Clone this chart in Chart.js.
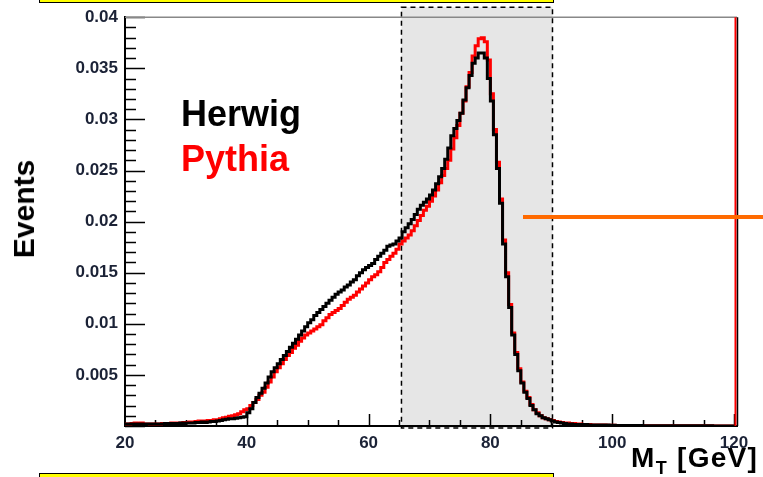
<!DOCTYPE html>
<html>
<head>
<meta charset="utf-8">
<script src="https://cdn.jsdelivr.net/npm/chart.js@4.4.0/dist/chart.umd.min.js"></script>
<style>
  html, body { margin: 0; padding: 0; background: #fff; }
  #wrap { position: relative; width: 763px; height: 477px; overflow: hidden; font-family: "Liberation Sans", Arial, sans-serif; }
  #plot { position: absolute; left: 0; top: 0; }
  .bar { position: absolute; background: #ffff00; border: 1.5px solid #000; box-sizing: border-box; }
  .txt { position: absolute; font-weight: bold; white-space: nowrap; line-height: 1; }
  #mark { position: absolute; left: 523px; top: 215px; width: 240px; height: 4px; background: #ff6a00; }
</style>
</head>
<body>
<div id="wrap">
  <canvas id="plot" width="763" height="477"></canvas>
  <div class="bar" style="left:39px; top:-12px; width:515px; height:15px;"></div>
  <div class="bar" style="left:39px; top:473px; width:515px; height:20px;"></div>
  <div id="mark"></div>
  <div class="txt" style="left:181px; top:96px; font-size:36px; color:#000;">Herwig</div>
  <div class="txt" style="left:181px; top:141px; font-size:36px; color:#ff0000;">Pythia</div>
  <div class="txt" style="left:24px; top:209px; font-size:30px; transform:translate(-50%,-50%) rotate(-90deg);">Events</div>
  <div class="txt" style="left:631px; top:444px; font-size:28px; letter-spacing:1.3px;">M<span style="font-size:18px; position:relative; top:7px;">T</span> [GeV]</div>
</div>
<script>
// M_T histograms, 0.5 GeV bins from 20 to 120 GeV
const binStart = 20;
const binWidth = 0.5;

const herwig = [
  0.0002, 0.0002, 0.0002, 0.00015, 0.0002, 0.0002, 0.00015, 0.0002, 0.0002, 0.0002,
  0.0002, 0.0002, 0.0002, 0.00025, 0.0002, 0.00025, 0.00025, 0.00025, 0.0003, 0.00025,
  0.0003, 0.0003, 0.0003, 0.00035, 0.00035, 0.0004, 0.00035, 0.0004, 0.00045, 0.00045,
  0.0005, 0.00055, 0.0006, 0.00065, 0.0007, 0.0007, 0.00075, 0.0008, 0.00085, 0.0009,
  0.0013, 0.0017, 0.0023, 0.0028, 0.0032, 0.0037, 0.0042, 0.0048, 0.0053, 0.0057,
  0.0061, 0.0065, 0.0069, 0.0073, 0.0077, 0.0081, 0.0085, 0.0089, 0.0093, 0.0097,
  0.0101, 0.0104, 0.0108, 0.0111, 0.0114, 0.0117, 0.012, 0.0123, 0.0126, 0.0129,
  0.0131, 0.0133, 0.0136, 0.0138, 0.0141, 0.0143, 0.0147, 0.015, 0.0153, 0.0155,
  0.0157, 0.0159, 0.0163, 0.0166, 0.0169, 0.0172, 0.0176, 0.0177, 0.0178, 0.0181,
  0.0184, 0.019, 0.0194, 0.0198, 0.0202, 0.0207, 0.0212, 0.0216, 0.0219, 0.0222,
  0.0226, 0.0231, 0.0237, 0.0244, 0.0252, 0.0261, 0.0272, 0.0284, 0.0291, 0.0299,
  0.0306, 0.0319, 0.0331, 0.0343, 0.0355, 0.036, 0.0365, 0.0365, 0.036, 0.034,
  0.0318, 0.0285, 0.0252, 0.0218, 0.0178, 0.0146, 0.0116, 0.0089, 0.007, 0.0054,
  0.0042, 0.0033, 0.0027, 0.002, 0.0016, 0.0012, 0.001, 0.0008, 0.0007, 0.0006,
  0.0005, 0.0004, 0.00035, 0.0003, 0.00025, 0.0002, 0.0002, 0.00015, 0.00015, 0.00015,
  0.00015, 0.00015, 0.0001, 0.0001, 0.0001, 0.0001, 0.0001, 0.0001, 0.0001, 0.00008,
  0.00008, 0.00006, 0.00006, 0.00005, 0.00005, 0.00005, 0.00004, 0.00004, 0.00004, 0.00004,
  0.00003, 0.00003, 0.00003, 0.00003, 0.00003, 0.00003, 0.00003, 0.00003, 0.00003, 0.00003,
  0.00003, 0.00003, 0.00002, 0.00003, 0.00002, 0.00002, 0.00002, 0.00002, 0.00002, 0.00002,
  0.00002, 0.00001, 0.00002, 0.00001, 0.00001, 0.00001, 0.00001, 0.00001, 0.00001, 0.00001
];

const pythia = [
  0.0002, 0.0002, 0.00025, 0.0003, 0.00025, 0.0003, 0.0002, 0.0002, 0.0002, 0.0002,
  0.0002, 0.0002, 0.00025, 0.00025, 0.00025, 0.0003, 0.0003, 0.0003, 0.0003, 0.00035,
  0.00035, 0.0004, 0.0004, 0.00045, 0.0005, 0.0005, 0.0005, 0.00055, 0.00055, 0.0006,
  0.0006, 0.0007, 0.0008, 0.00085, 0.00095, 0.001, 0.0011, 0.0012, 0.0014, 0.0016,
  0.0017, 0.002, 0.0023, 0.0026, 0.003, 0.0033, 0.0038, 0.0043, 0.0048, 0.0053,
  0.0057, 0.0061, 0.0065, 0.0069, 0.0072, 0.0076, 0.0079, 0.0083, 0.0086, 0.0089,
  0.0091, 0.0093, 0.0095, 0.0097, 0.0099, 0.0103, 0.0106, 0.0109, 0.0111, 0.0113,
  0.0115, 0.0118, 0.0121, 0.0124, 0.0126, 0.0128, 0.0131, 0.0134, 0.0137, 0.014,
  0.0143, 0.0146, 0.0148, 0.0151, 0.0155, 0.016, 0.0163, 0.0166, 0.0169, 0.0173,
  0.0178, 0.0181, 0.0184, 0.0187, 0.0191, 0.0196, 0.0201, 0.0206, 0.0211, 0.0215,
  0.022, 0.0225, 0.0231, 0.0238, 0.0245, 0.0252, 0.026, 0.0271, 0.0282, 0.0294,
  0.0306, 0.0318, 0.0332, 0.0346, 0.0362, 0.0372, 0.0379, 0.038, 0.0376, 0.0358,
  0.0325, 0.029, 0.0258, 0.0222, 0.0182, 0.015, 0.0119, 0.0091, 0.0072, 0.0056,
  0.0043, 0.0034, 0.0028, 0.0021, 0.0016, 0.0013, 0.001, 0.0008, 0.0007, 0.0006,
  0.00055, 0.00045, 0.0004, 0.00035, 0.0003, 0.0003, 0.00025, 0.00025, 0.0002, 0.0002,
  0.00015, 0.00015, 0.00015, 0.0001, 0.0001, 0.0001, 0.0001, 0.0001, 0.00008, 0.00008,
  0.00008, 0.00006, 0.00006, 0.00005, 0.00005, 0.00005, 0.00004, 0.00004, 0.00004, 0.00004,
  0.00003, 0.00003, 0.00003, 0.00003, 0.00003, 0.00003, 0.00003, 0.00003, 0.00003, 0.00003,
  0.00003, 0.00003, 0.00002, 0.00003, 0.00002, 0.00002, 0.00002, 0.00002, 0.00002, 0.00002,
  0.00002, 0.00001, 0.00002, 0.00001, 0.00001, 0.00001, 0.00001, 0.00001, 0.00001, 0.00001
];

const xTicks = [20, 40, 60, 80, 100, 120];
const yTicks = [0.005, 0.01, 0.015, 0.02, 0.025, 0.03, 0.035, 0.04];
const massWindow = [65.4, 90.2];

const labelColor = "#1b2236";
const labelFont = { family: "'Liberation Sans', Arial, sans-serif", size: 17, weight: "bold" };

// one point per bin low edge, plus the closing edge
function toSteps(values) {
  const pts = values.map((v, i) => ({ x: binStart + i * binWidth, y: v }));
  pts.push({ x: binStart + values.length * binWidth, y: values[values.length - 1] });
  return pts;
}

// shaded window, inner tick marks and the rest of the frame
const framePlugin = {
  id: "frame",
  beforeDraw(chart) {
    const { ctx, chartArea, scales } = chart;
    const x1 = scales.x.getPixelForValue(massWindow[0]);
    const x2 = scales.x.getPixelForValue(massWindow[1]);
    const top = chartArea.top - 10;
    const bottom = chartArea.bottom + 2;
    ctx.save();
    ctx.fillStyle = "#e6e6e6";
    ctx.fillRect(x1, top, x2 - x1, bottom - top);
    ctx.strokeStyle = "#000";
    ctx.lineWidth = 1.5;
    ctx.setLineDash([5, 4]);
    ctx.strokeRect(x1, top, x2 - x1, bottom - top);
    ctx.restore();
  },
  beforeDatasetsDraw(chart) {
    const { ctx, chartArea, scales } = chart;
    ctx.save();
    ctx.strokeStyle = "#000";
    ctx.lineWidth = 1.5;
    ctx.beginPath();
    for (let i = 0; i <= 40; i++) {
      const y = Math.round(scales.y.getPixelForValue(i * 0.001)) + 0.5;
      const len = i % 5 === 0 ? 20 : 11;
      ctx.moveTo(chartArea.left, y);
      ctx.lineTo(chartArea.left + len, y);
    }
    for (let v = 25; v <= 120; v += 5) {
      const x = Math.round(scales.x.getPixelForValue(v)) + 0.5;
      const len = v % 20 === 0 ? 12 : 6;
      ctx.moveTo(x, chartArea.bottom);
      ctx.lineTo(x, chartArea.bottom - len);
    }
    ctx.stroke();
    ctx.restore();
  },
  afterDraw(chart) {
    const { ctx, chartArea } = chart;
    ctx.save();
    ctx.strokeStyle = "#888";
    ctx.lineWidth = 1.5;
    ctx.beginPath();
    ctx.moveTo(chartArea.left, chartArea.top);
    ctx.lineTo(chartArea.right, chartArea.top);
    ctx.stroke();
    ctx.strokeStyle = "#ff0000";
    ctx.lineWidth = 2;
    ctx.beginPath();
    ctx.moveTo(chartArea.right - 1.5, chartArea.top);
    ctx.lineTo(chartArea.right - 1.5, chartArea.bottom);
    ctx.stroke();
    ctx.strokeStyle = "#000";
    ctx.lineWidth = 1.5;
    ctx.beginPath();
    ctx.moveTo(chartArea.right + 0.5, chartArea.top);
    ctx.lineTo(chartArea.right + 0.5, chartArea.bottom);
    ctx.stroke();
    ctx.restore();
  }
};

new Chart(document.getElementById("plot"), {
  type: "line",
  data: {
    datasets: [
      {
        label: "Herwig",
        data: toSteps(herwig),
        borderColor: "#000000",
        borderWidth: 3,
        stepped: "before",
        pointRadius: 0,
        fill: false,
        order: 0
      },
      {
        label: "Pythia",
        data: toSteps(pythia),
        borderColor: "#ff0000",
        borderWidth: 3,
        stepped: "before",
        pointRadius: 0,
        fill: false,
        order: 1
      }
    ]
  },
  options: {
    responsive: false,
    animation: false,
    devicePixelRatio: 1,
    layout: { padding: { top: 15, right: 26, left: 0, bottom: 0 } },
    plugins: {
      legend: { display: false },
      tooltip: { enabled: false }
    },
    scales: {
      x: {
        type: "linear",
        min: 20,
        max: 120.5,
        afterFit(scale) { scale.height = 51; },
        afterBuildTicks(scale) { scale.ticks = xTicks.map(v => ({ value: v })); },
        grid: { display: false, drawTicks: false },
        border: { display: true, color: "#000", width: 2 },
        ticks: {
          color: labelColor,
          font: labelFont,
          padding: 7,
          maxRotation: 0,
          autoSkip: false
        }
      },
      y: {
        type: "linear",
        min: 0,
        max: 0.04,
        afterFit(scale) { scale.width = 125; },
        afterBuildTicks(scale) { scale.ticks = yTicks.map(v => ({ value: v })); },
        grid: { display: false, drawTicks: false },
        border: { display: true, color: "#000", width: 2 },
        ticks: {
          color: labelColor,
          font: labelFont,
          padding: 7,
          autoSkip: false,
          callback: v => String(Number(v.toFixed(3)))
        }
      }
    }
  },
  plugins: [framePlugin]
});
</script>
</body>
</html>
